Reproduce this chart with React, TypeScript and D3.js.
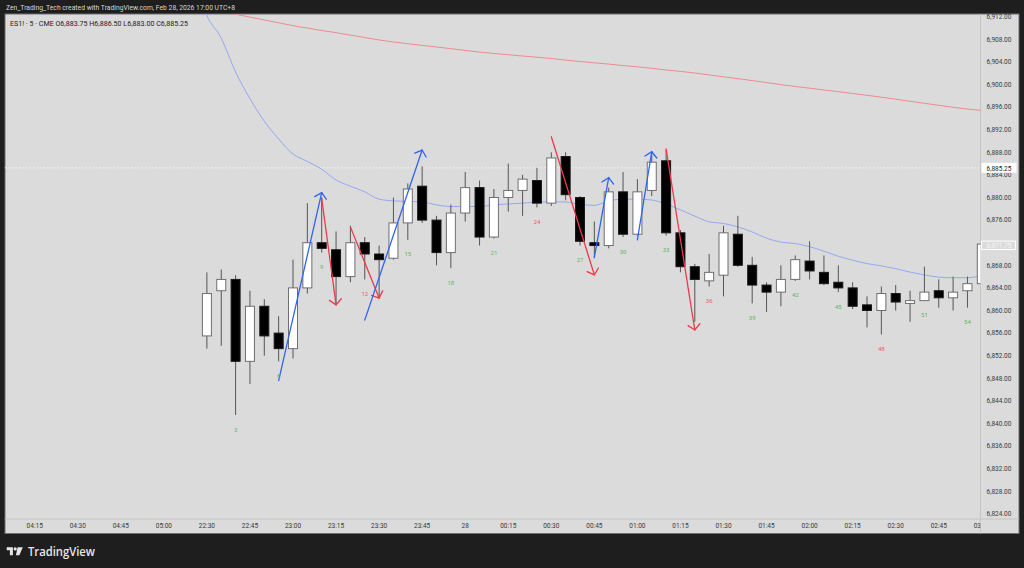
import React from 'react';
import * as d3 from 'd3';

const W = 1024;
const H = 568;

// time slots before the session gap (no candles visible)
const prevSessionTimes = ["04:15","04:20","04:25","04:30","04:35","04:40","04:45","04:50","04:55","05:00","05:05","05:10"];
const candleTimes = [
  "22:30","22:35","22:40","22:45","22:50","22:55","23:00","23:05","23:10","23:15","23:20","23:25",
  "23:30","23:35","23:40","23:45","23:50","23:55","00:00","00:05","00:10","00:15","00:20","00:25",
  "00:30","00:35","00:40","00:45","00:50","00:55","01:00","01:05","01:10","01:15","01:20","01:25",
  "01:30","01:35","01:40","01:45","01:50","01:55","02:00","02:05","02:10","02:15","02:20","02:25",
  "02:30","02:35","02:40","02:45","02:50","02:55","03:00"
];
const opens = [
  6855.5,6863.5,6865.5,6851,6860.75,6856,6853.25,6864,6872,6870.75,6866,6872,
  6870,6869.25,6875.5,6882,6876,6870.25,6877.25,6881.75,6873,6880,6881.25,6883,
  6879,6887.25,6880,6872,6871.5,6881,6873.5,6881.25,6886.5,6873.75,6867.75,6865.25,
  6866.25,6873.5,6868,6864.5,6863.25,6865.5,6868.75,6866.75,6865,6864,6861,6860,
  6863,6861.25,6861.75,6863.5,6862.25,6863.5,6864.75
];
const highs = [
  6866.75,6867.25,6866.25,6863.5,6862,6859,6869,6879,6880,6874,6875,6873,
  6871.5,6880,6882.5,6885.5,6876.75,6878.75,6884.5,6883,6881.5,6886,6884,6885.25,
  6888,6888,6880.25,6875.75,6881.75,6884.5,6883.25,6888,6888.5,6874.25,6868.25,6870,
  6875,6876.75,6869.5,6865,6868,6869.75,6872.25,6869.75,6868,6865,6862.5,6864.25,
  6864.5,6863.5,6867.75,6865.5,6866,6866,6872
];
const lows = [
  6853.25,6853.75,6841.5,6847,6852,6851,6851.5,6863,6870.25,6861,6865,6865.5,
  6862.25,6869,6872.5,6875.5,6868,6867.5,6875.75,6871.5,6872.75,6877.5,6876.75,6878.25,
  6878.5,6879.5,6871.5,6869.25,6871,6873,6873.25,6880.25,6873.25,6866.75,6858,6864.25,
  6862.5,6867.75,6861.25,6859.75,6860.75,6865.25,6865.5,6864.5,6863.25,6860.25,6857,6855.75,
  6860,6858,6861.75,6860.5,6860,6860.5,6864.5
];
const closes = [
  6863,6865.5,6851,6860.75,6855.5,6853.25,6864,6872,6871,6866,6872,6870,
  6869,6875.5,6881.5,6876,6870.25,6877.25,6881.75,6873,6880,6881.25,6883.25,6879,
  6887,6880.5,6872.25,6871.5,6881,6873.5,6881,6886.25,6873.75,6867.75,6865.5,6866.75,
  6873.75,6868,6864.5,6863.25,6865.5,6869,6867,6864.75,6864,6860.75,6860,6863,
  6861.5,6861.75,6863.25,6862.25,6863.25,6864.75,6871.75
];

// fast moving average (blue) — first value at 05:10, then one per candle
const blueMaTimes = ["05:10", ...candleTimes];
const blueMa = [
  6920,
  6912.2,6908.2,6902.2,6897.5,6893.5,6890.35,6887.7,6886.4,6885.0,6883.1,6882.0,6881.0,
  6879.7,6879.4,6879.3,6879.2,6878.7,6878.4,6878.4,6878.4,6878.7,6878.85,6879.0,6879.2,
  6879.25,6879.2,6878.8,6878.6,6879.4,6879.7,6879.7,6879.55,6878.85,6877.8,6876.7,6875.7,
  6875.4,6874.8,6873.9,6872.8,6872.1,6871.85,6871.3,6870.5,6869.6,6868.9,6868.3,6867.9,
  6867.4,6866.8,6866.3,6865.9,6865.8,6865.8,6866.2
];
// slow moving average (red)
const redMa = [
  6913.6,6913.0,6912.44,6911.93,6911.42,6910.92,6910.42,6909.98,6909.56,6909.17,6908.74,6908.32,
  6907.88,6907.52,6907.22,6906.92,6906.64,6906.34,6906.04,6905.73,6905.49,6905.27,6905.04,6904.83,
  6904.60,6904.32,6904.07,6903.84,6903.61,6903.36,6903.13,6902.87,6902.58,6902.32,6902.04,6901.70,
  6901.36,6901.04,6900.69,6900.34,6899.98,6899.65,6899.35,6899.03,6898.73,6898.41,6898.09,6897.75,
  6897.40,6897.03,6896.67,6896.32,6895.96,6895.66,6895.40
];

// swing arrows
const arrowUp = [true, false, false, true, false, true, true, false];
const arrowFromTime = ["22:55","23:10","23:20","23:25","00:30","00:45","01:00","01:10"];
const arrowFromPrice = [6847.6,6879.85,6874.8,6858.3,6890.75,6869.4,6872.5,6888.6];
const arrowToTime = ["23:10","23:15","23:30","23:45","00:45","00:50","01:05","01:20"];
const arrowToPrice = [6880.85,6861.0,6862.2,6888.4,6866.3,6883.5,6888.1,6856.55];

// time axis
const timeTickSlots = ["04:15","04:30","04:45","05:00","22:30","22:45","23:00","23:15","23:30","23:45","00:00","00:15","00:30","00:45","01:00","01:15","01:30","01:45","02:00","02:15","02:30","02:45","03:00"];
const timeTickLabels = ["04:15","04:30","04:45","05:00","22:30","22:45","23:00","23:15","23:30","23:45","28","00:15","00:30","00:45","01:00","01:15","01:30","01:45","02:00","02:15","02:30","02:45","03:00"];

const priceTicks = d3.range(6824, 6913, 4);
const lastPrice = 6885.25;
const markerPrice = 6871.75;

const headerText = "Zen_Trading_Tech created with TradingView.com, Feb 28, 2026 17:00 UTC+8";
const legendText = "ES1! · 5 · CME  O6,883.75  H6,886.50  L6,883.00  C6,885.25";

const FONT = "Roboto, 'Noto Sans', 'DejaVu Sans', sans-serif";

export default function App() {
  const panel = { x: 5, y: 14, r: 1019, b: 533.5 };
  const plotR = 980.5;
  const axisY = 519;

  const x = d3.scalePoint<string>()
    .domain([...prevSessionTimes, ...candleTimes])
    .range([34.7, 981.8]);
  const y = d3.scaleLinear().domain([6824, 6912]).range([513.9, 16.7]);
  const fmt = d3.format(",.2f");

  const blueLine = d3.line<number>()
    .x((_, i) => x(blueMaTimes[i]) as number)
    .y((d) => y(d))
    .curve(d3.curveMonotoneX);
  const redLine = d3.line<number>()
    .x((_, i) => x(candleTimes[i]) as number)
    .y((d) => y(d))
    .curve(d3.curveMonotoneX);

  const bodyW = 9;

  const arrows = arrowUp.map((up, i) => {
    const x1 = x(arrowFromTime[i]) as number;
    const y1 = y(arrowFromPrice[i]);
    const x2 = x(arrowToTime[i]) as number;
    const y2 = y(arrowToPrice[i]);
    const back = Math.atan2(y1 - y2, x1 - x2);
    const L = 8;
    const sp = (48 * Math.PI) / 180;
    const w1 = [x2 + L * Math.cos(back - sp), y2 + L * Math.sin(back - sp)];
    const w2 = [x2 + L * Math.cos(back + sp), y2 + L * Math.sin(back + sp)];
    const color = up ? '#2f63f5' : '#f0384a';
    return (
      <g key={'a' + i} stroke={color} strokeWidth={1.3} fill="none" strokeLinecap="round">
        <line x1={x1} y1={y1} x2={x2} y2={y2} />
        <polyline points={`${w1[0]},${w1[1]} ${x2},${y2} ${w2[0]},${w2[1]}`} strokeLinejoin="miter" />
      </g>
    );
  });

  // tick labels hidden behind the marker box on the price scale
  const visibleTicks = priceTicks.filter((p) => Math.abs(y(p) - y(markerPrice)) > 6);

  return (
    <svg width={W} height={H} viewBox={`0 0 ${W} ${H}`}
      style={{ position: 'absolute', left: 0, top: 0, display: 'block' }}
      fontFamily={FONT}>
      <defs>
        <clipPath id="plotClip">
          <rect x={panel.x} y={panel.y} width={plotR - panel.x} height={axisY - panel.y} />
        </clipPath>
      </defs>
      <rect x={0} y={0} width={W} height={H} fill="#1e1e1e" />
      <text x={6} y={10} fontSize={7} fill="#d6d6d6" textLength={229} lengthAdjust="spacingAndGlyphs">{headerText}</text>

      {/* panel */}
      <rect x={panel.x} y={panel.y} width={panel.r - panel.x} height={panel.b - panel.y} fill="#dbdbdb" stroke="#6e6e6e" strokeWidth={1} />
      <line x1={plotR} y1={panel.y} x2={plotR} y2={panel.b} stroke="#c4c4c4" strokeWidth={1} />
      <line x1={panel.x} y1={axisY} x2={panel.r} y2={axisY} stroke="#c4c4c4" strokeWidth={1} />

      <g clipPath="url(#plotClip)">
        {/* last price dotted line */}
        <line x1={panel.x} x2={plotR} y1={y(lastPrice)} y2={y(lastPrice)} stroke="#f4f4f4" strokeWidth={1} strokeDasharray="1.5,2" />
        <path d={redLine(redMa) || ''} fill="none" stroke="#ec8a90" strokeWidth={1} />
        <path d={blueLine(blueMa) || ''} fill="none" stroke="#93a9ef" strokeWidth={1} />

        {candleTimes.map((t, i) => {
          const cx = x(t) as number;
          const o = opens[i], c = closes[i];
          const up = c >= o;
          const top = y(Math.max(o, c));
          const bot = y(Math.min(o, c));
          const h = Math.max(1, bot - top);
          return (
            <g key={t}>
              <line x1={cx} x2={cx} y1={y(highs[i])} y2={y(lows[i])} stroke="#555" strokeWidth={1} />
              <rect x={cx - bodyW / 2} y={top} width={bodyW} height={h}
                fill={up ? '#ffffff' : '#000000'} stroke={up ? '#6f6f6f' : '#1a1a1a'} strokeWidth={1} />
            </g>
          );
        })}

        {arrows}

        {candleTimes.map((t, i) => {
          const n = i + 1;
          if (n % 3 !== 0) return null;
          return (
            <text key={'n' + t} x={x(t) as number} y={y(lows[i]) + 14.5} dy="0.35em" textAnchor="middle"
              fontSize={6} fill={n % 12 === 0 ? '#ef5a62' : '#5cb860'}>{n}</text>
          );
        })}
      </g>

      {/* legend */}
      <text x={10} y={26} fontSize={7} fill="#222" textLength={178} lengthAdjust="spacingAndGlyphs">{legendText}</text>

      {/* price axis */}
      <g fontSize={6.5} fill="#3a3a3a">
        {visibleTicks.map((p) => (
          <text key={p} x={986.5} y={y(p)} dy="0.35em">{fmt(p)}</text>
        ))}
      </g>
      <rect x={981.5} y={y(lastPrice) - 5} width={35} height={10} fill="#ffffff" />
      <text x={986.5} y={y(lastPrice) + 0.5} dy="0.35em" fontSize={6.5} fill="#222">{fmt(lastPrice)}</text>
      <rect x={981.5} y={y(markerPrice) - 3} width={34} height={8.5} fill="#dbdbdb" stroke="#ffffff" strokeWidth={1} />
      <text x={986.5} y={y(markerPrice) + 1.3} dy="0.35em" fontSize={6.5} fill="#f4f4f4">{fmt(markerPrice)}</text>

      {/* time axis */}
      <svg x={panel.x} y={axisY} width={plotR - panel.x} height={panel.b - axisY} overflow="hidden">
        <g fontSize={6.5} fill="#3a3a3a" textAnchor="middle">
          {timeTickSlots.map((t, i) => (
            <text key={t} x={(x(t) as number) - panel.x} y={9.2}>{timeTickLabels[i]}</text>
          ))}
        </g>
      </svg>

      {/* TradingView logo */}
      <g fill="#e6e6e6">
        <path d="M6.7,547.3 H12.9 V555.2 H9.9 V550.2 H6.7 Z" />
        <circle cx={15.2} cy={548.9} r={1.6} />
        <path d="M17.6,547.3 H22.8 L19.3,555.2 H15.9 Z" />
        <text x={28} y={555.6} fontSize={12.5} fontWeight={600} textLength={67} lengthAdjust="spacingAndGlyphs"
          fontFamily="'Open Sans', Inter, sans-serif">TradingView</text>
      </g>
    </svg>
  );
}
